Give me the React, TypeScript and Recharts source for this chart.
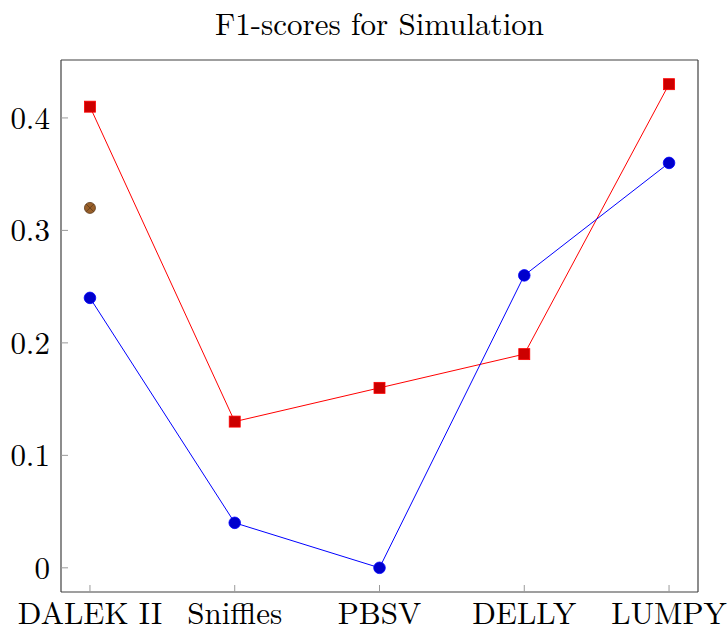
import React from 'react';
import { LineChart, Line, XAxis, YAxis } from 'recharts';

const categories = ['DALEK II', 'Sniffles', 'PBSV', 'DELLY', 'LUMPY'];
const redSeries = [0.41, 0.13, 0.16, 0.19, 0.43];
const blueSeries = [0.24, 0.04, 0, 0.26, 0.36];
const brownSeries: (number | null)[] = [0.32, null, null, null, null];
const yTicks = [0, 0.1, 0.2, 0.3, 0.4];
const xTicks = [0, 1, 2, 3, 4];

const data = categories.map((c, i) => ({
  x: i,
  name: c,
  red: redSeries[i],
  blue: blueSeries[i],
  brown: brownSeries[i],
}));

const FONT = '"Latin Modern Roman", "Liberation Serif", serif';
const FS = 31;

const SquareDot = (props: any) => {
  const { cx, cy, index } = props;
  if (cx == null || cy == null) return <g key={`s${index}`} />;
  const s = 11;
  return (
    <rect key={`s${index}`} x={cx - s / 2} y={cy - s / 2} width={s} height={s} fill="#cc0000" stroke="#ff0000" strokeWidth={0.8} />
  );
};

const CircleDot = (props: any) => {
  const { cx, cy, index } = props;
  if (cx == null || cy == null) return <g key={`c${index}`} />;
  return <circle key={`c${index}`} cx={cx} cy={cy} r={5.8} fill="#0000cc" stroke="#0000ff" strokeWidth={0.8} />;
};

const OTimesDot = (props: any) => {
  const { cx, cy, index, value } = props;
  if (cx == null || cy == null || value == null) return <g key={`b${index}`} />;
  const r = 5.5;
  const d = r * 0.707;
  return (
    <g key={`b${index}`}>
      <circle cx={cx} cy={cy} r={r} fill="#99602a" stroke="#5c3a1a" strokeWidth={0.8} />
      <line x1={cx - d} y1={cy - d} x2={cx + d} y2={cy + d} stroke="#5c3a1a" strokeWidth={0.8} />
      <line x1={cx - d} y1={cy + d} x2={cx + d} y2={cy - d} stroke="#5c3a1a" strokeWidth={0.8} />
    </g>
  );
};

const fmtY = (v: number) => (v === 0 ? '0' : String(v));
const fmtX = (v: number) => categories[v] ?? '';

export default function App() {
  const xDomain: [number, number] = [-0.2, 4.2];
  const yDomain: [number, number] = [-0.0215, 0.4515];
  const tickStyle = { fill: '#000', fontFamily: FONT, fontSize: FS };
  const frame = { stroke: '#404040', strokeWidth: 1.2 };
  const tl = { stroke: '#9a9a9a', strokeWidth: 1 };
  return (
    <div style={{ position: 'absolute', left: 0, top: 0, width: 728, height: 626, background: '#fff' }}>
      <div
        style={{
          position: 'absolute',
          left: 61,
          width: 637,
          top: 7,
          textAlign: 'center',
          fontFamily: FONT,
          fontSize: FS,
          lineHeight: `${FS}px`,
          color: '#000',
        }}
      >
        F1-scores for Simulation
      </div>
      <LineChart width={728} height={626} data={data} margin={{ top: 59, right: 29, bottom: 0, left: 11 }}>
        <XAxis
          dataKey="x"
          type="number"
          domain={xDomain}
          ticks={xTicks}
          tickFormatter={fmtX}
          interval={0}
          height={34}
          tickSize={-7}
          tickMargin={17}
          tick={tickStyle}
          axisLine={frame}
          tickLine={tl}
          allowDataOverflow
        />
        <XAxis
          xAxisId="top"
          orientation="top"
          dataKey="x"
          type="number"
          domain={xDomain}
          ticks={xTicks}
          height={1}
          tickSize={-7}
          tick={false}
          axisLine={frame}
          tickLine={tl}
          allowDataOverflow
        />
        <YAxis
          type="number"
          domain={yDomain}
          ticks={yTicks}
          tickFormatter={fmtY}
          width={50}
          tickSize={-7}
          tickMargin={18}
          tick={tickStyle}
          axisLine={frame}
          tickLine={tl}
          allowDataOverflow
        />
        <YAxis
          yAxisId="right"
          orientation="right"
          type="number"
          domain={yDomain}
          ticks={yTicks}
          width={1}
          tickSize={-7}
          tick={false}
          axisLine={frame}
          tickLine={tl}
          allowDataOverflow
        />
        <Line xAxisId="top" yAxisId="right" dataKey="blue" stroke="none" dot={false} activeDot={false} isAnimationActive={false} legendType="none" />
        <Line dataKey="red" stroke="#ff0000" strokeWidth={1} dot={SquareDot} activeDot={false} isAnimationActive={false} />
        <Line dataKey="blue" stroke="#0000ff" strokeWidth={1} dot={CircleDot} activeDot={false} isAnimationActive={false} />
        <Line dataKey="brown" stroke="none" dot={OTimesDot} activeDot={false} isAnimationActive={false} connectNulls={false} />
      </LineChart>
    </div>
  );
}
